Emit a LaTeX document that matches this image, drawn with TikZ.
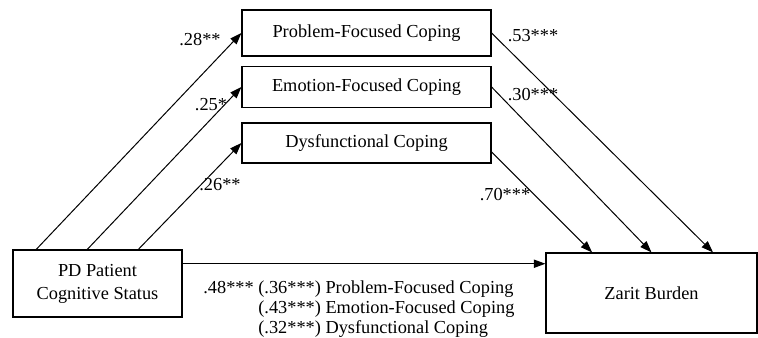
\documentclass[tikz,border=0pt]{standalone}
\usepackage{fontspec}
\setmainfont{Liberation Serif}
\usetikzlibrary{arrows.meta,calc}

\begin{document}
\begin{tikzpicture}[x=0.6pt,y=-0.6pt,
  font=\fontsize{11}{13.8}\selectfont,
  box/.style={draw,line width=0.7pt,inner sep=0pt,align=center},
  link/.style={line width=0.6pt,-{Triangle[length=7pt,width=5pt]}},
  coef/.style={inner sep=0pt}]
\useasboundingbox (0,0) rectangle (758,338);
% boxes
\node[box,minimum width=149.4pt,minimum height=27.6pt] (prob) at (366.5,33) {Problem-Focused Coping};
\node[box,minimum width=149.4pt,minimum height=24.6pt] (emo) at (366.5,87) {Emotion-Focused Coping};
\node[box,minimum width=149.4pt,minimum height=24pt] (dys) at (366.5,143) {Dysfunctional Coping};
\node[box,minimum width=101.4pt,minimum height=40.2pt] (pd) at (97.5,283.5) {PD Patient\\Cognitive Status};
\node[box,minimum width=126.6pt,minimum height=48pt] (zarit) at (651.5,293) {Zarit Burden};
% paths
\draw[link] ($(pd.north west)!0.14!(pd.north east)$) -- (prob.west);
\draw[link] ($(pd.north west)!0.44!(pd.north east)$) -- (emo.west);
\draw[link] ($(pd.north west)!0.74!(pd.north east)$) -- (dys.west);
\draw[link] (prob.east) -- ($(zarit.north west)!0.79!(zarit.north east)$);
\draw[link] (emo.east) -- (zarit.north);
\draw[link] ([yshift=-5.4pt]dys.east) -- ($(zarit.north west)!0.22!(zarit.north east)$);
\coordinate (direct) at ($(pd.north east)!0.21!(pd.south east)$);
\draw[link] (direct) -- (direct -| zarit.west);
% coefficients
\node[coef] (c1) at (200,40) {.28**};
\node[coef] (c2) at (211,105) {.25*};
\node[coef] (c3) at (220,185) {.26**};
\node[coef] (c4) at (533,36) {.53***};
\node[coef] (c5) at (533,95) {.30***};
\node[coef] (c6) at (505,195) {.70***};
\node[coef,anchor=north west,align=left,font=\fontsize{11}{12}\selectfont] (c7) at (203,280)
  {.48*** (.36***) Problem-Focused Coping\\
   \hphantom{.48***~}(.43***) Emotion-Focused Coping\\
   \hphantom{.48***~}(.32***) Dysfunctional Coping};
\end{tikzpicture}
\end{document}
